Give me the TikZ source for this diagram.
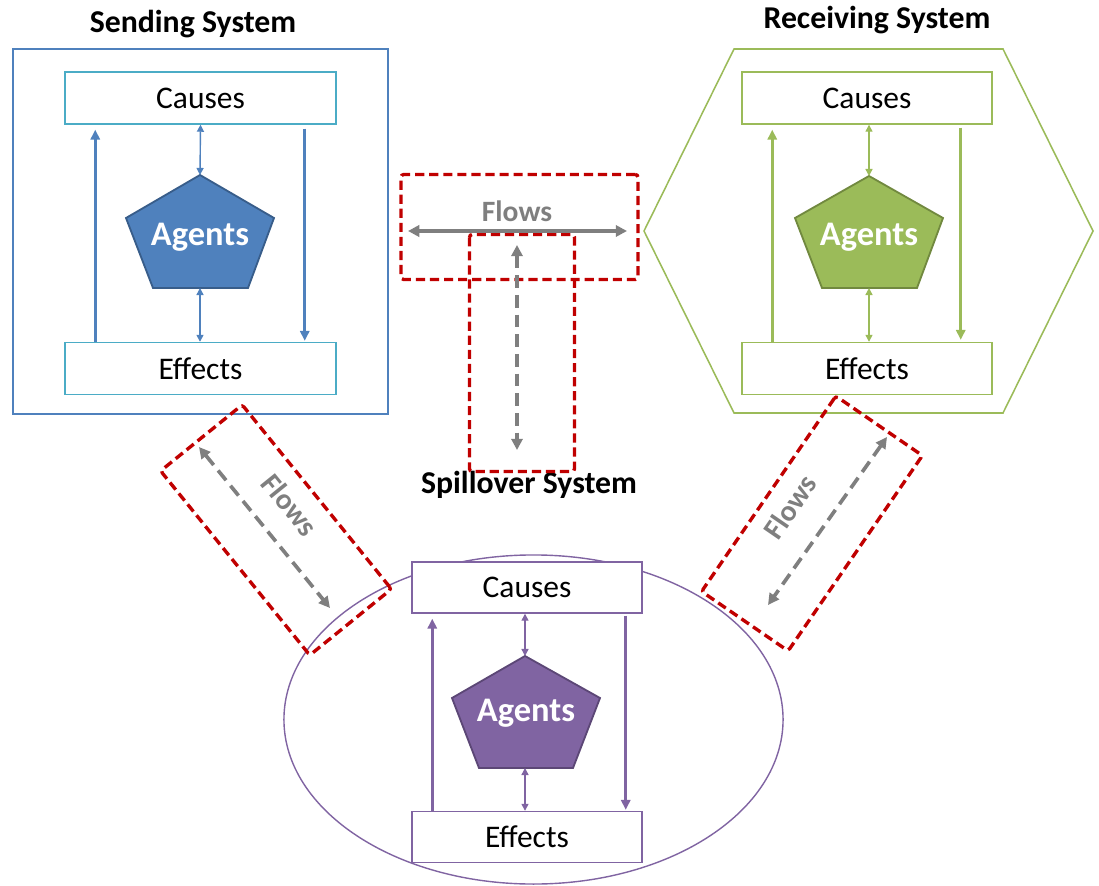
\documentclass[tikz,border=0pt]{standalone}
\usepackage{fontspec}
\setmainfont{Carlito}
\usetikzlibrary{arrows.meta,calc,shapes.geometric}
\definecolor{sendblue}{RGB}{79,129,189}
\definecolor{sendteal}{RGB}{75,172,198}
\definecolor{sendedge}{RGB}{56,93,138}
\definecolor{recvgreen}{RGB}{155,187,89}
\definecolor{recvedge}{RGB}{113,137,63}
\definecolor{spillpurple}{RGB}{128,100,162}
\definecolor{spilledge}{RGB}{92,71,118}
\definecolor{flowred}{RGB}{192,0,0}
\definecolor{flowgray}{RGB}{127,127,127}

\begin{document}
\begin{tikzpicture}[x=0.025cm,y=-0.025cm,
  titletext/.style={font=\fontsize{22.6}{26}\selectfont\bfseries},
  partbox/.style={rectangle,draw=#1,fill=white,line width=1pt,inner sep=0pt,
                  minimum width=6.775cm,minimum height=1.3cm,font=\fontsize{22.4}{26}\selectfont},
  agenttext/.style={text=white,font=\fontsize{24.5}{28}\selectfont\bfseries},
  pent/.style={line width=1.3pt,line join=miter},
  outarr/.style={-{Triangle[length=7pt,width=6.5pt]},line width=1.8pt},
  twoarr/.style={{Triangle[length=5pt,width=5pt]}-{Triangle[length=5pt,width=5pt]},line width=1pt},
  flowbox/.style={rectangle,draw=flowred,line width=2.4pt,dash pattern=on 6.5pt off 3.5pt,
                  rounded corners=2pt,minimum width=5.925cm,minimum height=2.625cm},
  flowarr/.style={{Triangle[length=8pt,width=8pt]}-{Triangle[length=8pt,width=8pt]},
                  line width=2.6pt,draw=flowgray},
  flowlabel/.style={text=flowgray,font=\fontsize{21}{25}\selectfont\bfseries}
]
\useasboundingbox (0,0) rectangle (1099,886);

% sending system
\node[draw=sendblue,line width=1.1pt,minimum width=9.375cm,minimum height=9.125cm] (sendsys) at (200.5,231.5) {};
\node[titletext] (sendtitle) at (193,24) {Sending System};
\node[partbox=sendteal] (sendcau) at (200.5,98) {Causes};
\node[partbox=sendteal] (sendeff) at (200.5,368.5) {Effects};
\draw[pent,fill=sendblue,draw=sendedge] (200,175) coordinate (sendtop) -- ++(74,43) -- ++(-26,70) -- ++(-95,0) -- ++(-27,-70) -- cycle;
\coordinate (sendbot) at (200,288);
\node[agenttext] (sendag) at (200,237) {Agents};

\draw[outarr,sendblue] ($(sendeff.north west)+(31,0)$) -- ($(sendcau.south west)+(31,5)$);
\draw[outarr,sendblue] ($(sendcau.south east)+(-32,4)$) -- ($(sendeff.north east)+(-32,-1)$);
\draw[twoarr,sendblue] (sendcau.south) -- (sendtop);
\draw[twoarr,sendblue] (sendbot) -- (sendbot |- sendeff.north);

% receiving system
\draw[draw=recvgreen,line width=1.1pt] (734,49) -- (1003,49) -- (1093,231) -- (1003,413) -- (734,413) -- (644,231) -- cycle;
\node[titletext] (recvtitle) at (877,20) {Receiving System};
\node[partbox=recvgreen,minimum width=6.25cm] (recvcau) at (867,98) {Causes};
\node[partbox=recvgreen,minimum width=6.25cm] (recveff) at (867,368.5) {Effects};
\draw[pent,fill=recvgreen,draw=recvedge] (869,176) coordinate (recvtop) -- ++(74,42) -- ++(-26,70) -- ++(-95,0) -- ++(-27,-70) -- cycle;
\coordinate (recvbot) at (869,288);
\node[agenttext] (recvag) at (869,237) {Agents};

\draw[outarr,recvgreen] ($(recveff.north west)+(31,0)$) -- ($(recvcau.south west)+(31,5)$);
\draw[outarr,recvgreen] ($(recvcau.south east)+(-32,3)$) -- ($(recveff.north east)+(-32,-2)$);
\draw[twoarr,recvgreen] (recvtop |- recvcau.south) -- (recvtop);
\draw[twoarr,recvgreen] (recvbot) -- (recvbot |- recveff.north);

% spillover system
\node[draw=spillpurple,line width=1pt,ellipse,inner sep=0pt,minimum width=12.475cm,minimum height=8.225cm] (spillsys) at (533.5,719.5) {};
\node[titletext] (spilltitle) at (529,485) {Spillover System};
\node[partbox=spillpurple,minimum width=5.75cm,minimum height=1.275cm] (spillcau) at (527,587.5) {Causes};
\node[partbox=spillpurple,minimum width=5.75cm,minimum height=1.275cm] (spilleff) at (527,837) {Effects};
\draw[pent,fill=spillpurple,draw=spilledge] (525,656) coordinate (spilltop) -- ++(75,42) -- ++(-27,70) -- ++(-94,0) -- ++(-27,-70) -- cycle;
\coordinate (spillbot) at (525,768);
\node[agenttext] (spillag) at (526,713) {Agents};

\draw[outarr,spillpurple] ($(spilleff.north west)+(21,0)$) -- ($(spillcau.south west)+(21,5)$);
\draw[outarr,spillpurple] ($(spillcau.south east)+(-17,2)$) -- ($(spilleff.north east)+(-17,-1)$);
\draw[twoarr,spillpurple] (spilltop |- spillcau.south) -- (spilltop);
\draw[twoarr,spillpurple] (spillbot) -- (spillbot |- spilleff.north);

% flows between the systems
\node[flowbox] (flowtop) at (519.5,227) {};
\node[flowbox,rotate=90] (flowmid) at (522,353) {};
\node[flowbox,rotate=-51] (flowleft) at (276,530) {};
\node[flowbox,rotate=55.5] (flowright) at (812,523.5) {};

\coordinate (topW) at (408,231);
\coordinate (topE) at (627,231);
\coordinate (midN) at (517,245);
\coordinate (midS) at (517,450);
\coordinate (leftN) at (199,447);
\coordinate (leftS) at (330,608);
\coordinate (rightN) at (887,437);
\coordinate (rightS) at (768,605);
\draw[flowarr] (topW) -- (topE);
\draw[flowarr,dash pattern=on 9pt off 5pt] (midN) -- (midS);
\draw[flowarr,dash pattern=on 9pt off 5pt] (leftN) -- (leftS);
\draw[flowarr,dash pattern=on 9pt off 5pt] (rightN) -- (rightS);

\node[flowlabel] (flowtoplbl) at (517,211) {Flows};
\node[flowlabel,rotate=-51] (flowleftlbl) at (290,505) {Flows};
\node[flowlabel,rotate=55.5] (flowrightlbl) at (790,507) {Flows};

\end{tikzpicture}
\end{document}
